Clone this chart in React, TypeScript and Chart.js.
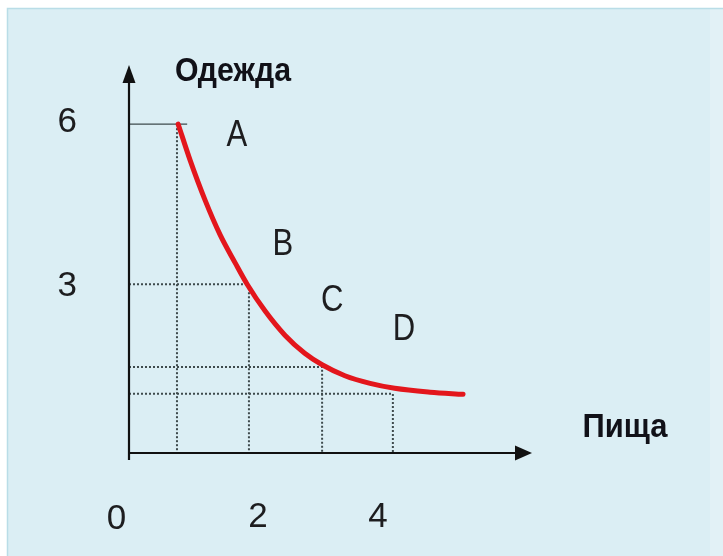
import React, { useEffect, useRef } from 'react';
import { Chart, registerables } from 'chart.js';

Chart.register(...registerables);

// ---- data (food on x, clothing on y) ----
const curveFood = [0.82, 1.02, 1.27, 1.52, 1.77, 1.97, 2.27, 2.6, 2.93, 3.22, 3.6, 4.02, 4.43, 5.02, 5.57];
const curveClothing = [6.0, 5.34, 4.61, 3.98, 3.47, 3.08, 2.59, 2.15, 1.82, 1.61, 1.41, 1.27, 1.18, 1.11, 1.07];

const pointNames = ['A', 'B', 'C', 'D'];
const pointFood = [0.8, 2.0, 3.22, 4.4];
const pointClothing = [6.0, 3.08, 1.57, 1.08];
const guideEndFood = [0.97, 2.0, 3.22, 4.4];

const xTickValues = [2, 4];
const yTickValues = [3, 6];
const originLabel = '0';
const xTitle = 'Пища';
const yTitle = 'Одежда';

const X_MAX = 6.72;
const Y_MAX = 7.08;

// ---- styling ----
const FONT_REG = '"Liberation Sans", Arial, sans-serif';
const TEXT = '#1d1d1f';
const RED = '#e3161c';
const GUIDE = '#3e4a4c';
const PANEL = '#dbeef4';
// pixel offsets of the point letters from their points
const letterOffsets = [
  [60, 9],
  [34, -42],
  [10, -69],
  [11, -67],
];

function drawNarrow(ctx: CanvasRenderingContext2D, text: string, cx: number, baseline: number, sx: number) {
  ctx.save();
  ctx.translate(cx, baseline);
  ctx.scale(sx, 1);
  ctx.textAlign = 'center';
  ctx.textBaseline = 'alphabetic';
  ctx.fillText(text, 0, 0);
  ctx.restore();
}

function App() {
  const ref = useRef<HTMLCanvasElement | null>(null);

  useEffect(() => {
    const canvas = ref.current;
    if (!canvas) return;

    const datasets: any[] = [
      {
        data: curveFood.map((x, i) => ({ x, y: curveClothing[i] })),
        borderColor: RED,
        borderWidth: 5,
        pointRadius: 0,
        cubicInterpolationMode: 'monotone',
        borderCapStyle: 'round',
        fill: false,
      },
    ];

    pointFood.forEach((gx, i) => {
      const gy = pointClothing[i];
      if (i === 0) {
        datasets.push({
          data: [
            { x: 0, y: gy },
            { x: guideEndFood[i], y: gy },
          ],
          borderColor: GUIDE,
          borderWidth: 1.3,
          pointRadius: 0,
          tension: 0,
          fill: false,
        });
        datasets.push({
          data: [
            { x: gx, y: gy },
            { x: gx, y: 0 },
          ],
          borderColor: GUIDE,
          borderWidth: 2,
          borderDash: [2, 2],
          pointRadius: 0,
          tension: 0,
          fill: false,
        });
      } else {
        datasets.push({
          data: [
            { x: 0, y: gy },
            { x: guideEndFood[i], y: gy },
            { x: gx, y: 0 },
          ],
          borderColor: GUIDE,
          borderWidth: 2,
          borderDash: [2, 2],
          pointRadius: 0,
          tension: 0,
          fill: false,
          stepped: 'after',
        });
      }
    });

    const decor = {
      id: 'decor',
      beforeDraw(chart: any) {
        const { ctx, width, height } = chart;
        ctx.save();
        ctx.fillStyle = '#ffffff';
        ctx.fillRect(0, 0, width, height);
        ctx.fillStyle = PANEL;
        ctx.fillRect(7, 8, width - 7, height - 8);
        ctx.fillStyle = '#e2f1f6';
        ctx.fillRect(710, 8, width - 710, height - 8);
        ctx.strokeStyle = '#b9dde7';
        ctx.lineWidth = 1.5;
        ctx.beginPath();
        ctx.moveTo(7.5, height);
        ctx.lineTo(7.5, 8.5);
        ctx.lineTo(width, 8.5);
        ctx.stroke();
        ctx.restore();
      },
      afterDatasetsDraw(chart: any) {
        const { ctx } = chart;
        const xs = chart.scales.x;
        const ys = chart.scales.y;
        const x0 = xs.getPixelForValue(0);
        const y0 = ys.getPixelForValue(0);
        const xTip = xs.getPixelForValue(X_MAX);
        const yTip = ys.getPixelForValue(Y_MAX);
        ctx.save();
        // axes
        ctx.strokeStyle = '#111111';
        ctx.fillStyle = '#111111';
        ctx.lineWidth = 2.2;
        ctx.beginPath();
        ctx.moveTo(x0, y0 + 7);
        ctx.lineTo(x0, yTip + 14);
        ctx.moveTo(x0, y0);
        ctx.lineTo(xTip - 14, y0);
        ctx.stroke();
        ctx.beginPath();
        ctx.moveTo(x0, yTip);
        ctx.lineTo(x0 - 6.5, yTip + 18);
        ctx.lineTo(x0 + 6.5, yTip + 18);
        ctx.closePath();
        ctx.fill();
        ctx.beginPath();
        ctx.moveTo(xTip, y0);
        ctx.lineTo(xTip - 17, y0 - 7.5);
        ctx.lineTo(xTip - 17, y0 + 7.5);
        ctx.closePath();
        ctx.fill();

        // point letters
        ctx.fillStyle = TEXT;
        ctx.font = `37px ${FONT_REG}`;
        pointNames.forEach((name, i) => {
          const px = xs.getPixelForValue(pointFood[i]) + letterOffsets[i][0];
          const py = ys.getPixelForValue(pointClothing[i]) + letterOffsets[i][1];
          drawNarrow(ctx, name, px, py + 13, 0.84);
        });

        // axis titles
        ctx.fillStyle = '#111118';
        ctx.font = `bold 34px ${FONT_REG}`;
        drawNarrow(ctx, yTitle, x0 + 104, yTip + 16, 0.89);
        drawNarrow(ctx, xTitle, xTip + 93, y0 - 16, 0.91);

        // origin label
        ctx.fillStyle = TEXT;
        ctx.font = `35px ${FONT_REG}`;
        ctx.textAlign = 'center';
        ctx.fillText(originLabel, x0 - 12.5, y0 + 76);
        ctx.restore();
      },
    };

    const chart = new Chart(canvas, {
      type: 'line',
      data: { datasets },
      options: {
        animation: false,
        responsive: false,
        events: [],
        layout: { padding: { top: 65, right: 191, bottom: 0, left: 0 } },
        plugins: { legend: { display: false }, tooltip: { enabled: false }, title: { display: false } },
        scales: {
          x: {
            type: 'linear',
            min: 0,
            max: X_MAX,
            grid: { display: false, drawTicks: false, tickLength: 0 },
            border: { display: false },
            afterBuildTicks: (s: any) => {
              s.ticks = xTickValues.map((v) => ({ value: v }));
            },
            afterFit: (s: any) => {
              s.height = 103;
              s.paddingLeft = 0;
              s.paddingRight = 0;
            },
            ticks: {
              color: TEXT,
              font: { family: FONT_REG, size: 35 },
              padding: 43,
              labelOffset: 9,
              maxRotation: 0,
              autoSkip: false,
              callback: (v: any) => String(v),
            },
          },
          y: {
            type: 'linear',
            min: 0,
            max: Y_MAX,
            grid: { display: false, drawTicks: false, tickLength: 0 },
            border: { display: false },
            afterBuildTicks: (s: any) => {
              s.ticks = yTickValues.map((v) => ({ value: v }));
            },
            afterFit: (s: any) => {
              s.width = 129;
              s.paddingTop = 0;
              s.paddingBottom = 0;
            },
            ticks: {
              color: TEXT,
              font: { family: FONT_REG, size: 35 },
              padding: 52,
              labelOffset: -2,
              autoSkip: false,
              callback: (v: any) => String(v),
            },
          },
        },
      },
      plugins: [decor],
    });

    return () => chart.destroy();
  }, []);

  return (
    <div style={{ position: 'fixed', left: 0, top: 0, width: 723, height: 556 }}>
      <canvas ref={ref} width={723} height={556} style={{ display: 'block' }} />
    </div>
  );
}

export default App;
